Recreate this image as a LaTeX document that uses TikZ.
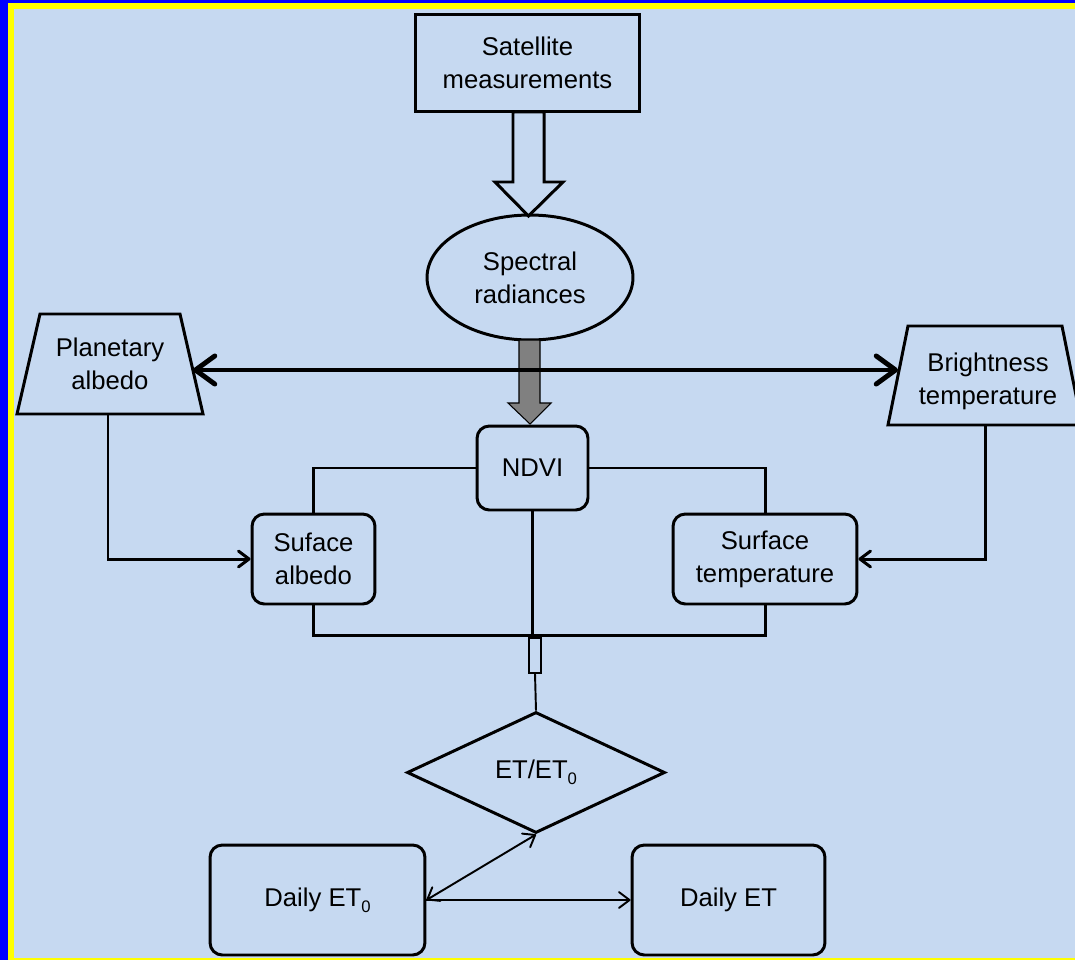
\documentclass[tikz,border=0pt]{standalone}
\usepackage{fontspec}
\setmainfont{Liberation Sans}
\usetikzlibrary{shapes.geometric,arrows.meta}
\definecolor{bgc}{RGB}{198,217,241}
\definecolor{frameblue}{RGB}{0,0,255}
\definecolor{frameyellow}{RGB}{255,255,0}
\definecolor{arrowgray}{RGB}{128,128,128}
\newcommand{\subzero}{\raisebox{-0.45ex}{\fontsize{9.5}{9.5}\selectfont 0}}
\tikzset{
  txt/.style={font=\fontsize{14.6}{18.7}\selectfont, align=center, text=black},
  sbox/.style={txt, draw=black, line width=1.7pt, inner sep=0pt},
  rbox/.style={sbox, rounded corners=7pt},
  conn/.style={draw=black, line width=1.7pt},
  thinconn/.style={draw=black, line width=1.1pt},
  barb/.style={-{Straight Barb[length=6pt,width=9pt,round]}},
  bigbarb/.style={{Straight Barb[length=11pt,width=16pt,round]}-{Straight Barb[length=11pt,width=16pt,round]}},
}
\begin{document}
\begin{tikzpicture}[x=0.02cm,y=-0.02cm]
\useasboundingbox (0,0) rectangle (1075,960);
% frame and background
\fill[frameblue] (0,0) rectangle (1075,960);
\fill[frameyellow] (8,3) rectangle (1075,960);
\fill[bgc] (14,9) rectangle (1075,958);
\begin{scope}
\clip (14,9) rectangle (1075,958);
% trapezia
\draw[line width=1.7pt, line join=miter] (40,314) -- (180,314) -- (203,414) -- (17,414) -- cycle;
\node[txt] (pa) at (110,364) {Planetary\\albedo};
\coordinate (paS) at (108,414);
\coordinate (paE) at (193,370);
\draw[line width=1.7pt, line join=miter] (908,326) -- (1062,326) -- (1082,425) -- (888,425) -- cycle;
\node[txt] (bt) at (988,381) {Brightness\\temperature};
\coordinate (btS) at (985,425);
\coordinate (btW) at (898,370);
\end{scope}
% nodes
\node[sbox, minimum width=4.5cm, minimum height=1.96cm] (sat) at (527.5,63) {Satellite\\measurements};
\node[sbox, ellipse, minimum width=4.12cm, minimum height=2.5cm] (spec) at (530,277.5) {Spectral\\radiances};
\node[rbox, minimum width=2.22cm, minimum height=1.68cm] (ndvi) at (532.5,468) {NDVI};
\node[rbox, minimum width=2.46cm, minimum height=1.8cm] (sa) at (313.5,559) {Suface\\albedo};
\node[rbox, minimum width=3.68cm, minimum height=1.8cm] (st) at (765,559) {Surface\\temperature};
\node[sbox, diamond, minimum width=5.16cm, minimum height=2.42cm] (et) at (536,772.5) {ET/ET\subzero};
\node[rbox, minimum width=4.3cm, minimum height=2.2cm] (d0) at (317.5,900) {Daily ET\subzero};
\node[rbox, minimum width=3.86cm, minimum height=2.2cm] (det) at (728.5,900) {Daily ET};
\node[draw=black, line width=0.6pt, minimum width=0.24cm, minimum height=0.7cm, inner sep=0pt] (sr) at (535,655.5) {};
% hollow arrow satellite -> spectral
\draw[line width=1.7pt, fill=bgc, line join=miter]
  (513,112) -- (544,112) -- (544,182) -- (563,182) -- (528.5,216) -- (495,182) -- (513,182) -- cycle;
% gray arrow spectral -> NDVI
\draw[line width=0.6pt, fill=arrowgray, line join=miter]
  (519,340) -- (540,340) -- (540,403) -- (551,403) -- (530,424) -- (508,403) -- (519,403) -- cycle;
% thick double arrow
\draw[line width=2.8pt, bigbarb] (paE) -- (btW);
% connectors
\coordinate (j) at (535,635);
\draw[conn] (ndvi.west) -| (sa.north);
\draw[conn] (ndvi.east) -| (st.north);
\draw[conn] (ndvi.south) -- (ndvi.south |- j);
\draw[conn] (sa.south) -- (sa.south |- j) -- (st.south |- j) -- (st.south);
\draw[thinconn] (sr.south) -- (et.north);
\draw[conn, barb] (paS) |- (sa.west);
\draw[conn, barb] (btS) |- (st.east);
\draw[thinconn, {Straight Barb[length=6pt,width=9pt,round]}-{Straight Barb[length=6pt,width=9pt,round]}] (d0.east) -- (et.south);
\draw[thinconn, barb] (d0.east) -- (det.west);
\end{tikzpicture}
\end{document}
